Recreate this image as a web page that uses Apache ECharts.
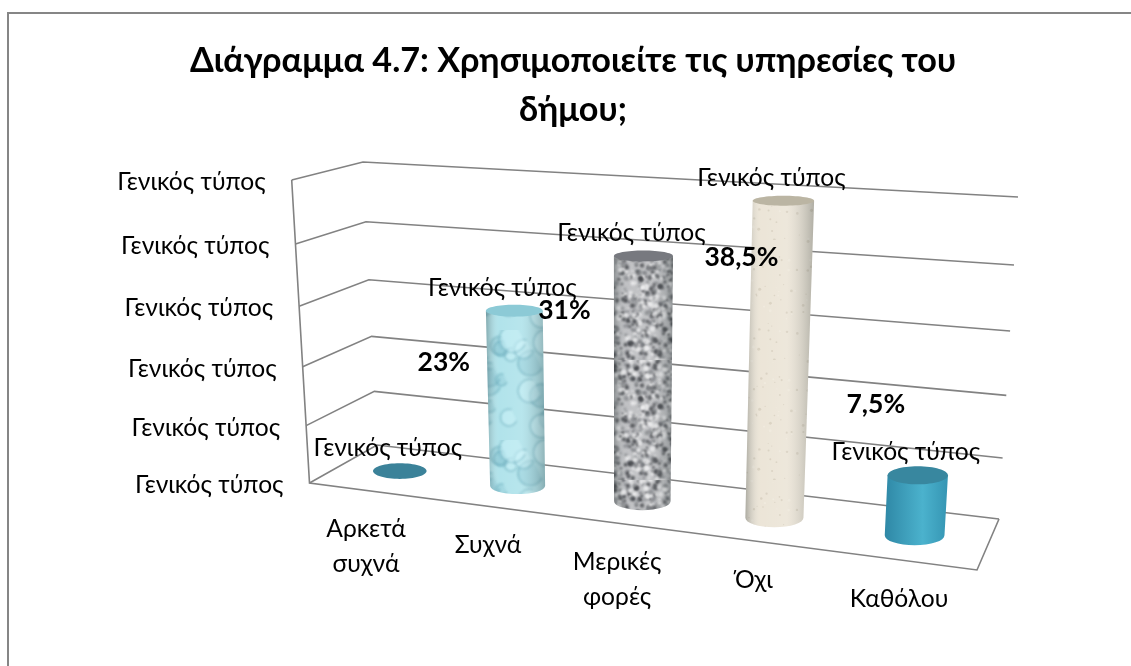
<!DOCTYPE html>
<html>
<head>
<meta charset="utf-8">
<style>
  html, body { margin: 0; padding: 0; background: #fff; }
  #bar { width: 1131px; height: 666px; }
</style>
<script src="https://cdn.jsdelivr.net/npm/echarts@6/dist/echarts.min.js"></script>
</head>
<body>
<div id="bar"></div>
<script>
const categories = ['Αρκετά\nσυχνά', 'Συχνά', 'Μερικές\nφορές', 'Όχι', 'Καθόλου'];
const percentValues = [0, 23, 31, 38.5, 7.5];
const percentLabels = ['', '23%', '31%', '38,5%', '7,5%'];
const dataLabel = 'Γενικός τύπος';
const yTicks = [0, 8, 16, 24, 32, 40];
const yTickLabel = 'Γενικός τύπος';
const chartTitle = 'Διάγραμμα 4.7: Χρησιμοποιείτε τις υπηρεσίες του\nδήμου;';

const FONT = 'Lato, "Noto Sans", sans-serif';
const LINE = '#828282';

// 3D box corners on the screen [x, y]: f = front, b = back, l/r, bottom/top
const box = {
  flb: [309.5, 483], flt: [291.7, 180],
  blb: [377, 445], blt: [363, 162],
  frb: [977, 570], frt: [1001, 225],
  brb: [999, 519], brt: [1018, 197]
};

function mix (a, b, k) {
  return [a[0] + (b[0] - a[0]) * k, a[1] + (b[1] - a[1]) * k];
}
// u: along the categories, v: height, d: 0 front -> 1 back
function project (u, v, d) {
  const vv = v / (v + 1.07 * (1 - v));
  const front = mix(mix(box.flb, box.frb, u), mix(box.flt, box.frt, u), vv);
  const back = mix(mix(box.blb, box.brb, u), mix(box.blt, box.brt, u), vv);
  return mix(front, back, d);
}
// the right side of the chart is nearer, so the categories spread out
function spreadU (t) {
  return t / (t + 1.156 * (1 - t));
}
function toUnit (params, api, x, y) {
  const p = api.coord([x, y]);
  const g = params.coordSys;
  return [(p[0] - g.x) / g.width, (g.y + g.height - p[1]) / g.height];
}

// textures, seeded hash so that every render is the same
function hash (n) {
  const s = Math.sin(n * 12.9898) * 43758.5453;
  return s - Math.floor(s);
}
function makeTile (size, base, paint) {
  const c = document.createElement('canvas');
  c.width = c.height = size;
  const ctx = c.getContext('2d');
  ctx.fillStyle = base;
  ctx.fillRect(0, 0, size, size);
  paint(ctx, size);
  return c;
}
const waterTile = makeTile(110, '#aee2ea', function (ctx, size) {
  ctx.filter = 'blur(1px)';
  for (let i = 0; i < 24; i++) {
    const x = hash(i + 1) * size, y = hash(i + 40) * size, r = 5 + hash(i + 80) * 9;
    ctx.strokeStyle = 'rgba(70,145,165,0.42)';
    ctx.fillStyle = i % 2 ? 'rgba(205,245,250,0.45)' : 'rgba(110,178,195,0.25)';
    ctx.lineWidth = 1.5;
    ctx.beginPath();
    ctx.arc(x, y, r, 0.4, Math.PI * 1.6);
    ctx.fill();
    ctx.stroke();
  }
});
const graniteTile = makeTile(120, '#bdbec1', function (ctx, size) {
  ctx.filter = 'blur(0.8px)';
  for (let i = 0; i < 1100; i++) {
    const x = hash(i + 1) * size, y = hash(i + 2000) * size, r = 0.8 + hash(i + 4000) * 1.9;
    const g = hash(i + 6000);
    ctx.fillStyle = g < 0.36 ? 'rgba(50,52,58,0.8)' : g < 0.68 ? 'rgba(120,122,127,0.7)' : 'rgba(238,238,240,0.85)';
    ctx.beginPath();
    ctx.arc(x, y, r, 0, Math.PI * 2);
    ctx.fill();
  }
});
const sandTile = makeTile(120, '#ebe4d6', function (ctx, size) {
  ctx.filter = 'blur(0.7px)';
  for (let i = 0; i < 130; i++) {
    const x = hash(i + 1) * size, y = hash(i + 900) * size, r = 0.5 + hash(i + 1800) * 1.1;
    ctx.fillStyle = hash(i + 2700) < 0.7 ? 'rgba(190,180,160,0.4)' : 'rgba(246,241,230,0.4)';
    ctx.beginPath();
    ctx.arc(x, y, r, 0, Math.PI * 2);
    ctx.fill();
  }
});
const barFills = [
  '#3b8299',
  { image: waterTile, repeat: 'repeat' },
  { image: graniteTile, repeat: 'repeat' },
  { image: sandTile, repeat: 'repeat' },
  new echarts.graphic.LinearGradient(0, 0, 1, 0, [
    { offset: 0, color: '#2f88a6' }, { offset: 0.6, color: '#4bb2cd' }, { offset: 1, color: '#3595b3' }
  ])
];
const capColors = ['#3b8299', '#8ccad6', '#77797f', '#bbb5a3', '#38879f'];
const shade = new echarts.graphic.LinearGradient(0, 0, 1, 0, [
  { offset: 0, color: 'rgba(40,50,50,0.32)' },
  { offset: 0.22, color: 'rgba(255,255,255,0.04)' },
  { offset: 0.6, color: 'rgba(255,255,255,0.12)' },
  { offset: 1, color: 'rgba(40,50,50,0.3)' }
]);

// hand placed percent labels, offset from the top of each bar
const percentShift = [[0, 0], [-70.5, 52], [-79, 55], [-42, 57], [-42, -71]];
const barStretch = 1.03;
const barDepth = 0.2;

function renderWall (params, api) {
  const pos = toUnit(params, api, 0, api.value(0));
  const v = pos[1];
  const a = project(0, v, 0), b = project(0, v, 1), c = project(1, v, 1);
  const children = [
    { type: 'polyline', shape: { points: [a, b, c] }, style: { stroke: LINE, lineWidth: 1.6, fill: 'none' } },
    {
      type: 'text',
      style: { text: yTickLabel, x: a[0] - 26, y: a[1] + 2, align: 'right', verticalAlign: 'middle', font: '24.6px ' + FONT, fill: '#000' }
    }
  ];
  if (params.dataIndex === 0) {
    children.push({
      type: 'polyline',
      shape: { points: [project(0, 1, 0), a, project(1, 0, 0), c] },
      style: { stroke: LINE, lineWidth: 1.6, fill: 'none' }
    });
  }
  return { type: 'group', children: children };
}

function barGeometry (params, api) {
  const i = api.value(0);
  const value = api.value(1);
  const bottom = toUnit(params, api, i, 0);
  const top = toUnit(params, api, i, value);
  const u = spreadU(bottom[0]);
  const du = 0.041 + 0.006 * u;
  const vTop = Math.min(top[1] * barStretch, 1);
  const b = project(u, 0, 0.5), t = project(u, vTop, 0.5);
  const rxB = (project(u + du, 0, 0.5)[0] - project(u - du, 0, 0.5)[0]) / 2;
  const rxT = (project(u + du, vTop, 0.5)[0] - project(u - du, vTop, 0.5)[0]) / 2;
  return {
    i: i, value: value, b: b, t: t, rxB: rxB, rxT: rxT,
    rb: (project(u, 0, 0.5 - barDepth)[1] - project(u, 0, 0.5 + barDepth)[1]) / 2,
    rt: (project(u, vTop, 0.5 - barDepth)[1] - project(u, vTop, 0.5 + barDepth)[1]) / 2
  };
}

function renderBar (params, api) {
  const g = barGeometry(params, api);
  if (g.value === 0) {
    return {
      type: 'ellipse',
      shape: { cx: g.b[0], cy: g.b[1], rx: g.rxB, ry: g.rb },
      style: { fill: barFills[g.i] }
    };
  }
  const body = 'M' + (g.t[0] - g.rxT) + ' ' + g.t[1] +
    'L' + (g.b[0] - g.rxB) + ' ' + g.b[1] +
    'A' + g.rxB + ' ' + g.rb + ' 0 0 0 ' + (g.b[0] + g.rxB) + ' ' + g.b[1] +
    'L' + (g.t[0] + g.rxT) + ' ' + g.t[1] + 'Z';
  const children = [{ type: 'path', shape: { pathData: body }, style: { fill: barFills[g.i] } }];
  if (g.i !== 4) {
    children.push({ type: 'path', shape: { pathData: body }, style: { fill: shade } });
  }
  children.push({
    type: 'ellipse',
    shape: { cx: g.t[0], cy: g.t[1], rx: g.rxT, ry: g.rt },
    style: { fill: capColors[g.i] }
  });
  return { type: 'group', children: children };
}

function renderLabels (params, api) {
  const g = barGeometry(params, api);
  const front = project(spreadU(toUnit(params, api, g.i, 0)[0]), 0, 0);
  const shift = percentShift[g.i];
  return {
    type: 'group',
    children: [
      {
        type: 'text',
        style: { text: dataLabel, x: g.t[0] - 12, y: g.t[1] - 23, align: 'center', verticalAlign: 'middle', font: '24.6px ' + FONT, fill: '#000' }
      },
      {
        type: 'text',
        style: { text: percentLabels[g.i], x: g.t[0] + shift[0], y: g.t[1] + shift[1], align: 'center', verticalAlign: 'middle', font: 'bold 26.5px ' + FONT, fill: '#000' }
      },
      {
        type: 'text',
        style: { text: categories[g.i], x: front[0] - 2, y: front[1] + 21, align: 'center', verticalAlign: 'top', font: '24.6px ' + FONT, lineHeight: 35, fill: '#000' }
      }
    ]
  };
}

const myChart = echarts.init(document.getElementById('bar'));
const barData = percentValues.map(function (v, i) { return [i, v]; });
const option = {
  animation: false,
  backgroundColor: '#fff',
  title: {
    text: chartTitle,
    left: 568,
    top: 31,
    textAlign: 'center',
    textStyle: { fontFamily: FONT, fontSize: 34.2, fontWeight: 'bold', lineHeight: 49, color: '#000' }
  },
  // only the top and left of the frame are inside the picture
  graphic: [{
    type: 'polyline',
    shape: { points: [[8, 666], [8, 13], [1131, 13]] },
    style: { fill: 'none', stroke: '#868686', lineWidth: 2 },
    silent: true,
    z: -1
  }],
  grid: { left: 100, right: 100, top: 100, bottom: 100 },
  xAxis: { type: 'category', data: categories, show: false },
  yAxis: { type: 'value', min: 0, max: 40, interval: 8, show: false },
  series: [
    { type: 'custom', name: 'wall', coordinateSystem: 'cartesian2d', data: yTicks.map(function (t) { return [t]; }), encode: { y: 0 }, renderItem: renderWall, clip: false, silent: true, z: 1 },
    { type: 'custom', name: 'bars', coordinateSystem: 'cartesian2d', data: barData, encode: { x: 0, y: 1 }, renderItem: renderBar, clip: false, z: 2 },
    { type: 'custom', name: 'labels', coordinateSystem: 'cartesian2d', data: barData, encode: { x: 0, y: 1 }, renderItem: renderLabels, clip: false, silent: true, z: 3 }
  ]
};
myChart.setOption(option);
window.addEventListener('resize', function () {
  myChart.resize();
});
</script>
</body>
</html>
